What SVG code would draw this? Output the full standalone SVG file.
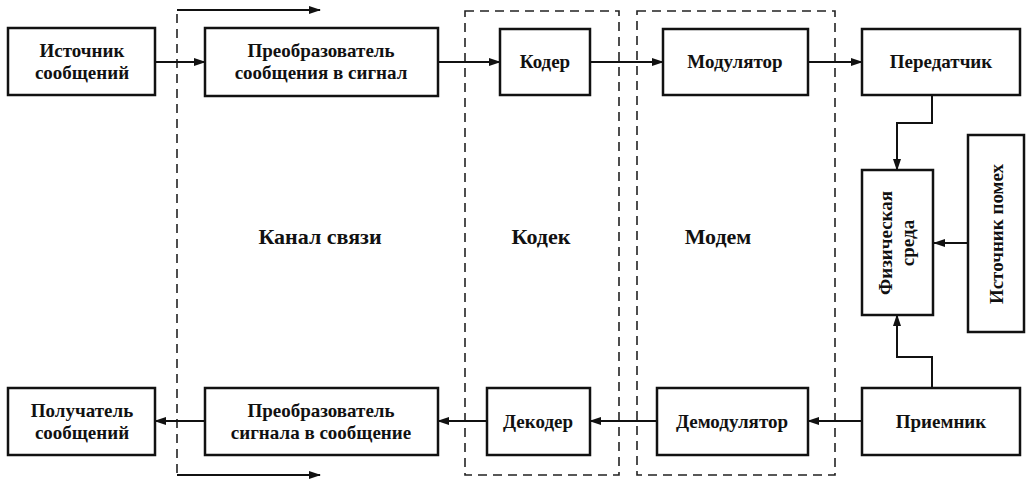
<svg xmlns="http://www.w3.org/2000/svg" width="1029" height="486" viewBox="0 0 1029 486">
<style>
.b{fill:#fff;stroke:#111;stroke-width:2.5}
.d{fill:none;stroke:#222;stroke-width:1.6;stroke-dasharray:9,6}
.c{fill:none;stroke:#111;stroke-width:2}
text{font-family:"Liberation Serif","Times New Roman",serif;font-size:19px;font-weight:bold;fill:#111;text-anchor:middle}
.t{font-size:22px}
</style>
<defs><marker id="a" markerWidth="12" markerHeight="8" refX="11" refY="4" orient="auto" markerUnits="userSpaceOnUse"><path d="M0,0 L12,4 L0,8 Z" fill="#111"/></marker></defs>
<rect width="1029" height="486" fill="#fff"/>
<g id="frames">
<path class="d" d="M177,14 V475"/>
<rect class="d" x="465" y="11" width="154" height="464"/>
<rect class="d" x="637" y="11" width="198" height="464"/>
<text class="t" x="320" y="244">Канал связи</text>
<text class="t" x="541" y="244">Кодек</text>
<text class="t" x="718" y="244">Модем</text>
</g>
<g id="connectors">
<path class="c" d="M177,10 H320" marker-end="url(#a)"/>
<path class="c" d="M177,475 H320" marker-end="url(#a)"/>
<path class="c" d="M155,62 H205" marker-end="url(#a)"/>
<path class="c" d="M438,62 H500" marker-end="url(#a)"/>
<path class="c" d="M590,62 H663" marker-end="url(#a)"/>
<path class="c" d="M808,62 H862" marker-end="url(#a)"/>
<path class="c" d="M932,95 V123 H897 V170" marker-end="url(#a)"/>
<path class="c" d="M932,388 V357 H897 V315" marker-end="url(#a)"/>
<path class="c" d="M968,243 H934" marker-end="url(#a)"/>
<path class="c" d="M862,421 H808" marker-end="url(#a)"/>
<path class="c" d="M657,421 H590" marker-end="url(#a)"/>
<path class="c" d="M487,421 H438" marker-end="url(#a)"/>
<path class="c" d="M205,421 H155" marker-end="url(#a)"/>
</g>
<g id="src"><rect class="b" x="8" y="28" width="147" height="67"/><text x="82" y="57">Источник</text><text x="82" y="79">сообщений</text></g>
<g id="conv1"><rect class="b" x="205" y="28" width="233" height="68"/><text x="321" y="57">Преобразователь</text><text x="321" y="79">сообщения в сигнал</text></g>
<g id="coder"><rect class="b" x="500" y="29" width="90" height="66"/><text x="545" y="68">Кодер</text></g>
<g id="mod"><rect class="b" x="663" y="29" width="145" height="66"/><text x="735" y="68">Модулятор</text></g>
<g id="tx"><rect class="b" x="862" y="29" width="158" height="66"/><text x="941" y="68">Передатчик</text></g>
<g id="medium"><rect class="b" x="862" y="170" width="71" height="145"/><text transform="translate(892,243) rotate(-90)">Физическая</text><text transform="translate(914,243) rotate(-90)">среда</text></g>
<g id="noise"><rect class="b" x="968" y="135" width="56" height="197"/><text transform="translate(1003,234) rotate(-90)">Источник помех</text></g>
<g id="dst"><rect class="b" x="8" y="388" width="147" height="67"/><text x="82" y="417">Получатель</text><text x="82" y="439">сообщений</text></g>
<g id="conv2"><rect class="b" x="205" y="388" width="233" height="67"/><text x="321" y="417">Преобразователь</text><text x="321" y="439">сигнала в сообщение</text></g>
<g id="decoder"><rect class="b" x="487" y="388" width="103" height="67"/><text x="538" y="428">Декодер</text></g>
<g id="demod"><rect class="b" x="657" y="388" width="151" height="67"/><text x="732" y="428">Демодулятор</text></g>
<g id="rx"><rect class="b" x="862" y="388" width="158" height="67"/><text x="941" y="428">Приемник</text></g>
</svg>
